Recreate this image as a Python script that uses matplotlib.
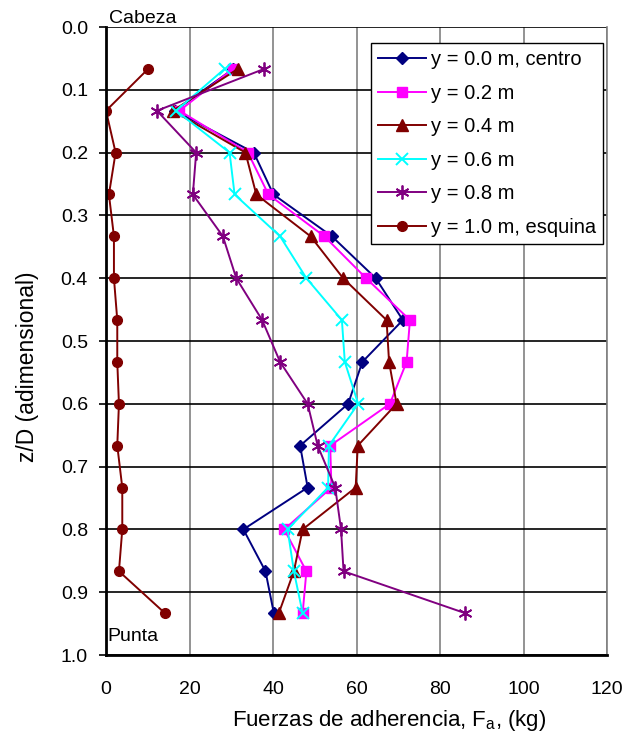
import matplotlib
matplotlib.use("Agg")
import matplotlib.pyplot as plt

plt.rcParams['font.family'] = ['Liberation Sans', 'DejaVu Sans']

z = [1/15, 2/15, 3/15, 4/15, 5/15, 6/15, 7/15, 8/15, 9/15, 10/15, 11/15, 12/15, 13/15, 14/15]

f_y00 = [30.5, 16.5, 35.4, 40.1, 54.1, 64.6, 71.1, 61.4, 58.0, 46.5, 48.3, 32.9, 38.2, 40.2]
f_y02 = [30.4, 17.6, 34.0, 38.9, 52.3, 62.3, 72.8, 72.0, 68.0, 53.7, 54.0, 42.7, 48.0, 47.1]
f_y04 = [31.6, 16.0, 33.4, 36.0, 49.0, 56.8, 67.2, 67.8, 69.6, 60.3, 59.8, 47.1, 45.0, 41.4]
f_y06 = [28.4, 16.8, 29.6, 30.8, 41.7, 48.0, 56.5, 57.2, 60.4, 53.4, 53.2, 43.5, 45.0, 47.1]
f_y08 = [37.9, 12.2, 21.6, 20.8, 28.0, 31.2, 37.4, 41.7, 48.3, 50.7, 54.9, 56.3, 56.9, 86.0]
f_y10 = [10.1, 0.0, 2.3, 0.7, 1.9, 1.9, 2.7, 2.7, 3.1, 2.7, 3.9, 3.9, 3.1, 14.1]

labels = ["y = 0.0 m, centro", "y = 0.2 m", "y = 0.4 m", "y = 0.6 m", "y = 0.8 m", "y = 1.0 m, esquina"]
xticks = [0, 20, 40, 60, 80, 100, 120]
yticks = [0.0, 0.1, 0.2, 0.3, 0.4, 0.5, 0.6, 0.7, 0.8, 0.9, 1.0]

fig = plt.figure(figsize=(6.31, 7.34), dpi=100)
ax = fig.add_axes([106/631, 1 - 655/734, (607-106)/631, (655-27)/734])

styles = [
    dict(color='#000080', marker='D', ms=6.5, mfc='#000080', mec='#000080'),
    dict(color='#FF00FF', marker='s', ms=7, mfc='#FF00FF', mec='#FF00FF'),
    dict(color='#800000', marker='^', ms=8.5, mfc='#800000', mec='#800000'),
    dict(color='#00FFFF', marker='x', ms=8, mew=1.4),
    dict(color='#800080', marker=(6, 2, 0), ms=10, mew=1.3),
    dict(color='#800000', marker='o', ms=7, mfc='#800000', mec='#800000'),
]
series = [f_y00, f_y02, f_y04, f_y06, f_y08, f_y10]
for data, lab, st in zip(series, labels, styles):
    ax.plot(data, z, lw=1.4, label=lab, **st)

ax.set_xlim(0, 120)
ax.set_ylim(1.0, 0.0)
ax.set_xticks(xticks)
ax.set_yticks(yticks)
ax.set_yticklabels([f"{v:.1f}" for v in yticks])

ax.xaxis.grid(True, color='#808080', lw=1.2)
ax.yaxis.grid(True, color='black', lw=1.2)
ax.set_axisbelow(True)

ax.spines['top'].set_visible(False)
ax.spines['right'].set_color('#808080')
ax.spines['right'].set_linewidth(1.2)
ax.spines['left'].set_linewidth(2)
ax.spines['bottom'].set_linewidth(2)

ax.tick_params(axis='x', length=0, pad=18.5, labelsize=14)
ax.tick_params(axis='y', length=5, width=1.2, pad=8, labelsize=14)

ax.set_xlabel("Fuerzas de adherencia, F$_\\mathregular{a}$, (kg)", fontsize=16)
ax.xaxis.set_label_coords(0.565, -0.085)
ax.set_ylabel("z/D (adimensional)", fontsize=16.5)
ax.yaxis.set_label_coords(-0.133, 0.459)

ax.text(0.6, -0.006, "Cabeza", fontsize=14, va='baseline', ha='left')
ax.text(0.4, 0.978, "Punta", fontsize=14, va='baseline', ha='left')

leg = ax.legend(loc='upper right', bbox_to_anchor=(0.993, 0.974), fontsize=14.5,
                frameon=True, fancybox=False, edgecolor='black', framealpha=1,
                handlelength=2.4, labelspacing=0.72, borderpad=0.35, borderaxespad=0,
                handletextpad=0.25)
leg.get_frame().set_linewidth(1.0)

fig.savefig("out.png", dpi=100)
